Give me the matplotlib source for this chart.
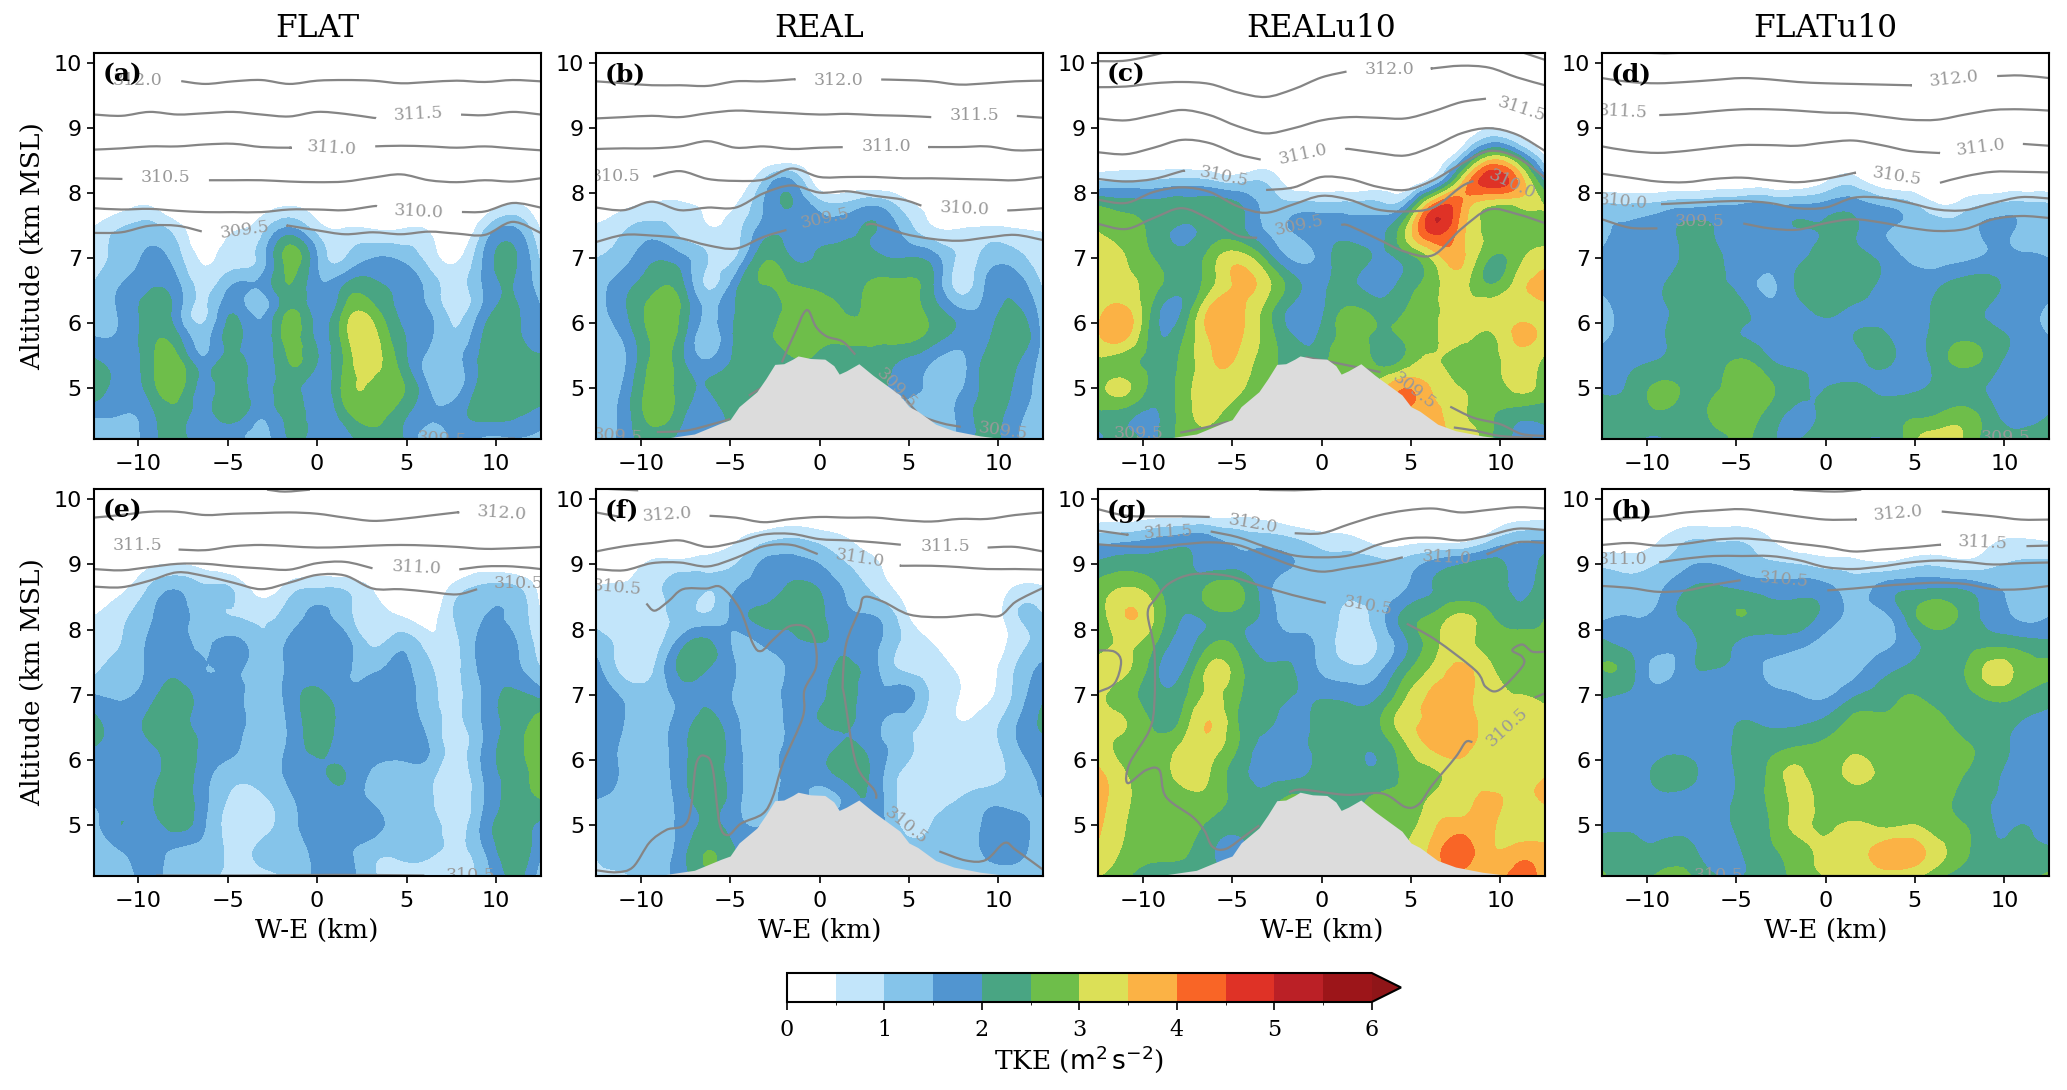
import numpy as np
import matplotlib
matplotlib.use("Agg")
import matplotlib.pyplot as plt
from matplotlib.colors import BoundaryNorm, ListedColormap
from matplotlib.cm import ScalarMappable
from matplotlib.patches import PathPatch
from matplotlib.path import Path
from matplotlib.tri import Triangulation, UniformTriRefiner

plt.rcParams['font.family'] = 'DejaVu Serif'

W, H = 2067, 1090

# TKE grid
X = np.array([-12.5, -10.94, -9.38, -7.81, -6.25, -4.69, -3.12, -1.56, 0,
              1.56, 3.12, 4.69, 6.25, 7.81, 9.38, 10.94, 12.5])
Z = np.array([4.2, 4.6, 5.0, 5.4, 5.8, 6.2, 6.6, 7.0, 7.4, 7.8, 8.2, 8.6, 9.0, 9.4, 9.8, 10.2])
LEVELS = [0, 0.5, 1, 1.5, 2, 2.5, 3, 3.5, 4, 4.5, 5, 5.5, 6]
COLORS = ['#ffffff', '#c2e5fa', '#85c4ea', '#5195d0', '#49a583', '#6ebe4a', '#dce057',
          '#fbb245', '#f96526', '#df3226', '#bb2026', '#9c1519']
OVER = '#8f1518'

O = [0] * 17
TKE_A = [
    [0.9, 1.2, 1.7, 2.2, 1.7, 1.7, 1.3, 2.0, 1.7, 1.8, 2.2, 2.1, 1.2, 1.6, 1.3, 1.4, 1.3],
    [1.6, 1.5, 1.8, 2.3, 1.8, 2.3, 1.6, 2.2, 1.7, 2.3, 2.7, 2.2, 1.6, 1.8, 2.2, 2.1, 1.8],
    [2.3, 1.8, 2.2, 2.7, 1.8, 2.4, 1.7, 2.3, 1.6, 2.7, 2.9, 2.6, 1.5, 1.3, 2.3, 2.3, 2.3],
    [2.1, 1.8, 2.3, 2.7, 1.7, 2.3, 1.7, 2.5, 2.0, 2.6, 3.2, 2.3, 1.3, 1.3, 2.2, 2.3, 2.2],
    [1.5, 1.6, 2.3, 2.1, 1.3, 2.2, 1.6, 2.7, 1.9, 2.8, 3.2, 2.1, 1.6, 1.1, 2.1, 2.2, 1.6],
    [1.1, 1.6, 2.2, 1.7, 0.9, 1.9, 1.3, 2.5, 1.7, 2.6, 2.7, 1.9, 1.5, 0.8, 1.7, 2.1, 1.5],
    [1.0, 1.5, 1.9, 1.6, 0.8, 1.5, 1.6, 2.5, 1.6, 2.0, 2.1, 1.9, 1.3, 0.8, 1.6, 2.0, 1.2],
    [0.8, 1.2, 1.6, 1.2, 0.4, 0.8, 1.2, 2.7, 1.5, 1.0, 1.5, 1.4, 0.8, 0.4, 1.6, 2.1, 0.9],
    [0.6, 1.1, 1.3, 0.8, 0.1, 0.5, 0.9, 1.8, 0.9, 0.6, 0.6, 0.6, 0.5, 0.0, 1.1, 1.7, 0.5],
    [0.0, 0.3, 0.5, 0.0, 0.0, 0.0, 0.2, 0.5, 0.2, 0.0, 0.0, 0.0, 0.0, 0.0, 0.2, 0.6, 0.0],
    O, O, O, O, O, O,
]
TKE_B = [
    [1.3, 1.7, 2.3, 1.8, 1.8, 2.0, 2.0, 2.0, 2.0, 2.0, 2.0, 1.5, 1.3, 1.6, 2.2, 1.6, 1.2],
    [1.4, 1.7, 2.7, 2.2, 1.7, 2.2, 2.2, 2.3, 2.3, 2.2, 2.0, 1.3, 1.2, 1.6, 2.2, 1.7, 1.3],
    [1.3, 1.6, 2.7, 2.3, 2.0, 2.2, 2.4, 2.4, 2.4, 2.4, 2.2, 1.7, 1.4, 1.4, 2.2, 1.9, 1.3],
    [1.2, 1.4, 2.6, 2.2, 1.6, 2.1, 2.3, 2.4, 2.4, 2.3, 2.3, 1.9, 1.5, 1.3, 2.2, 2.1, 1.3],
    [1.2, 1.6, 2.6, 2.3, 1.2, 2.1, 2.4, 2.8, 2.7, 2.6, 2.6, 2.7, 2.3, 1.8, 1.9, 2.4, 1.3],
    [1.3, 1.9, 2.7, 2.5, 1.4, 2.0, 2.3, 2.7, 2.9, 2.45, 2.7, 2.8, 2.3, 1.6, 1.7, 2.1, 1.2],
    [1.2, 1.8, 2.3, 2.2, 0.9, 1.8, 2.5, 2.5, 2.3, 2.2, 2.6, 2.6, 2.1, 0.8, 1.6, 1.8, 0.9],
    [1.0, 1.3, 1.9, 1.7, 1.0, 1.0, 2.4, 2.0, 2.1, 2.2, 2.1, 2.0, 1.8, 0.9, 1.2, 1.2, 0.6],
    [0.7, 1.0, 1.3, 0.9, 0.6, 0.8, 1.8, 1.9, 1.8, 1.9, 2.0, 1.4, 0.7, 0.6, 0.7, 0.6, 0.5],
    [0.1, 0.4, 0.6, 0.6, 0.4, 0.5, 1.5, 2.0, 1.3, 1.2, 1.5, 0.8, 0.3, 0.0, 0.0, 0.0, 0.0],
    [0.0, 0.0, 0.0, 0.0, 0.0, 0.0, 1.0, 1.5, 0.1, 0.0, 0.0, 0.0, 0.0, 0.0, 0.0, 0.0, 0.0],
    O, O, O, O, O,
]
TKE_C = [
    [1.8, 2.2, 1.9, 2.7, 2.8, 2.8, 2.6, 2.5, 2.5, 2.5, 3.0, 3.5, 3.6, 3.6, 2.6, 1.9, 1.8],
    [2.4, 2.2, 1.9, 2.7, 3.1, 2.8, 2.7, 2.5, 2.6, 2.6, 3.0, 3.8, 3.7, 3.1, 2.6, 2.2, 2.2],
    [2.7, 3.1, 2.3, 2.7, 3.3, 3.1, 2.7, 2.5, 2.6, 2.7, 3.2, 4.0, 3.4, 3.0, 2.7, 3.1, 2.7],
    [2.9, 2.7, 2.3, 2.6, 3.4, 3.4, 2.7, 2.3, 2.3, 3.0, 2.4, 2.7, 3.1, 2.6, 2.7, 3.2, 2.9],
    [3.4, 3.6, 2.2, 2.4, 3.55, 3.6, 2.8, 2.0, 2.1, 2.7, 2.4, 2.6, 2.9, 3.2, 2.9, 3.6, 3.2],
    [3.3, 3.6, 2.3, 2.0, 3.6, 3.7, 2.8, 1.8, 1.9, 2.6, 2.3, 2.5, 2.9, 3.2, 3.2, 3.3, 3.4],
    [3.1, 3.1, 2.7, 2.2, 2.8, 3.6, 3.2, 2.2, 1.9, 2.1, 1.8, 2.2, 2.8, 3.2, 2.5, 3.2, 3.6],
    [3.2, 3.0, 2.5, 2.2, 2.7, 3.3, 2.4, 1.4, 1.7, 2.2, 1.9, 2.2, 3.1, 3.6, 2.5, 2.8, 3.3],
    [3.0, 2.8, 2.3, 1.9, 2.2, 2.2, 1.5, 1.5, 1.8, 1.8, 1.8, 3.0, 4.6, 3.7, 2.9, 2.8, 2.8],
    [2.5, 2.3, 2.2, 2.2, 2.3, 2.1, 1.3, 1.2, 1.2, 1.2, 1.2, 1.6, 4.2, 4.0, 3.0, 3.0, 3.0],
    [0.9, 1.0, 1.0, 1.1, 1.0, 0.8, 0.9, 0.1, 0.0, 0.0, 0.1, 0.0, 0.8, 3.2, 4.8, 4.0, 1.8],
    [0.0, 0.0, 0.0, 0.0, 0.0, 0.0, 0.0, 0.0, 0.0, 0.0, 0.0, 0.0, 0.0, 0.9, 2.7, 2.0, 0.4],
    [0.0, 0.0, 0.0, 0.0, 0.0, 0.0, 0.0, 0.0, 0.0, 0.0, 0.0, 0.0, 0.0, 0.0, 0.5, 0.2, 0.0],
    O, O, O,
]
TKE_D = [
    [2.1, 2.1, 1.9, 2.2, 2.2, 2.6, 2.1, 2.0, 2.2, 2.2, 1.9, 2.7, 3.4, 2.9, 2.2, 2.2, 2.2],
    [2.3, 2.2, 2.4, 2.3, 2.6, 2.8, 2.3, 1.9, 2.1, 2.3, 2.3, 2.4, 2.5, 2.7, 2.1, 1.8, 2.0],
    [1.9, 2.1, 2.6, 2.4, 2.4, 2.8, 2.6, 2.1, 2.0, 2.1, 1.9, 1.9, 2.1, 2.2, 1.9, 1.7, 1.7],
    [1.7, 1.9, 2.05, 2.2, 2.2, 2.6, 2.1, 1.9, 1.8, 1.8, 2.1, 1.8, 2.2, 2.6, 2.2, 1.7, 1.7],
    [1.4, 1.7, 1.9, 2.2, 2.2, 2.0, 1.8, 1.7, 1.8, 2.0, 2.1, 1.8, 2.2, 2.4, 2.2, 1.8, 1.5],
    [1.3, 1.7, 1.9, 2.2, 2.4, 2.1, 1.7, 1.8, 2.1, 1.9, 1.8, 1.8, 2.1, 2.2, 1.9, 1.7, 1.4],
    [1.6, 1.7, 1.9, 2.2, 2.1, 1.8, 1.4, 2.1, 2.4, 2.4, 1.9, 1.8, 1.9, 2.2, 2.1, 1.8, 1.7],
    [1.6, 1.8, 1.7, 2.1, 2.1, 1.8, 1.7, 1.9, 2.2, 2.2, 1.9, 1.4, 1.3, 1.4, 1.6, 1.6, 1.5],
    [1.4, 1.6, 1.7, 2.1, 2.0, 1.8, 1.8, 1.95, 2.05, 2.05, 1.6, 1.3, 1.3, 1.3, 1.6, 1.4, 1.3],
    [1.1, 1.1, 1.2, 1.4, 1.5, 1.6, 1.6, 1.6, 1.7, 1.8, 1.5, 1.2, 0.6, 0.8, 1.1, 1.2, 1.1],
    [0.0, 0.0, 0.0, 0.0, 0.0, 0.0, 0.0, 0.0, 0.4, 0.7, 0.1, 0.0, 0.0, 0.0, 0.0, 0.0, 0.0],
    O, O, O, O, O,
]
TKE_E = [
    [1.1, 1.2, 1.7, 1.2, 1.1, 0.8, 0.8, 1.1, 1.6, 1.7, 1.1, 0.7, 0.8, 0.8, 1.2, 2.1, 1.2],
    [1.2, 1.5, 1.7, 1.4, 1.3, 0.9, 1.1, 1.3, 1.6, 1.6, 1.2, 1.1, 1.1, 0.9, 1.5, 2.3, 1.6],
    [1.2, 2.0, 1.8, 2.2, 1.5, 0.8, 0.8, 1.3, 1.7, 1.6, 1.7, 1.2, 1.2, 0.8, 1.7, 2.2, 1.9],
    [1.6, 1.7, 1.9, 2.3, 1.6, 0.9, 0.9, 1.4, 1.8, 1.8, 1.4, 1.2, 1.1, 0.7, 1.5, 2.2, 2.5],
    [1.7, 1.8, 1.8, 2.2, 1.7, 1.2, 1.2, 1.6, 1.9, 2.0, 1.4, 1.2, 1.2, 0.7, 1.6, 2.2, 2.8],
    [2.0, 1.8, 1.9, 2.2, 1.9, 1.6, 1.2, 1.6, 2.1, 1.8, 1.8, 1.8, 1.5, 0.8, 1.6, 2.3, 2.8],
    [2.1, 1.8, 2.1, 2.2, 1.8, 1.7, 1.2, 1.6, 2.2, 1.8, 1.7, 1.7, 1.3, 0.9, 1.6, 2.2, 2.7],
    [1.5, 1.4, 1.8, 2.2, 1.8, 1.7, 1.2, 1.7, 2.1, 1.7, 1.7, 1.7, 1.2, 0.9, 1.6, 2.1, 1.8],
    [0.9, 1.2, 1.6, 1.9, 1.5, 1.6, 1.2, 1.6, 1.8, 1.6, 1.4, 1.6, 1.1, 0.9, 1.7, 1.7, 1.0],
    [0.8, 1.0, 1.6, 1.8, 1.4, 1.7, 1.1, 1.6, 1.8, 1.7, 0.9, 1.3, 0.7, 0.9, 1.7, 1.6, 0.7],
    [0.5, 0.9, 1.4, 1.7, 1.2, 1.0, 0.9, 1.2, 1.6, 1.2, 0.7, 0.5, 0.3, 1.1, 1.5, 1.4, 0.5],
    [0.0, 0.4, 1.1, 1.5, 1.1, 1.0, 0.3, 0.8, 1.1, 1.0, 0.5, 0.0, 0.0, 0.8, 1.2, 1.2, 0.3],
    [0.0, 0.0, 0.4, 0.5, 0.3, 0.0, 0.0, 0.0, 0.1, 0.0, 0.0, 0.0, 0.0, 0.0, 0.2, 0.1, 0.0],
    O, O, O,
]
TKE_F = [
    [0.9, 0.9, 1.3, 1.7, 2.3, 2.0, 2.0, 2.0, 2.0, 2.0, 2.0, 1.0, 1.0, 1.2, 1.2, 1.2, 1.2],
    [1.0, 1.3, 1.3, 1.7, 2.5, 2.0, 1.8, 1.8, 1.8, 1.8, 1.8, 1.2, 1.1, 1.2, 1.6, 1.7, 1.1],
    [1.1, 1.2, 1.3, 1.6, 2.1, 1.7, 1.5, 1.8, 1.8, 1.8, 1.8, 0.9, 1.0, 1.2, 1.6, 1.7, 1.2],
    [1.5, 1.3, 1.1, 1.7, 2.2, 1.7, 1.2, 1.7, 1.3, 1.7, 1.8, 0.8, 0.8, 1.0, 1.3, 1.3, 1.5],
    [1.7, 1.4, 1.1, 1.8, 2.2, 1.7, 1.2, 1.7, 1.8, 2.2, 1.8, 0.9, 0.7, 0.7, 0.7, 1.2, 1.6],
    [1.8, 1.4, 1.2, 1.8, 2.2, 1.7, 1.1, 1.7, 1.8, 2.1, 1.7, 1.2, 0.7, 0.6, 0.7, 1.4, 1.8],
    [2.0, 1.5, 1.2, 1.7, 2.1, 1.6, 1.1, 1.7, 2.0, 2.1, 1.6, 1.3, 0.8, 0.5, 0.7, 1.4, 2.1],
    [1.8, 1.4, 1.2, 1.7, 1.9, 1.4, 1.1, 1.7, 1.9, 2.2, 1.6, 1.7, 0.9, 0.5, 0.4, 1.1, 1.9],
    [1.7, 0.8, 0.9, 2.1, 2.0, 1.5, 1.1, 1.6, 1.8, 2.1, 1.6, 0.9, 0.7, 0.4, 0.3, 1.0, 1.6],
    [1.2, 0.8, 0.7, 1.7, 2.1, 1.4, 1.6, 1.9, 2.0, 1.9, 1.6, 0.9, 0.5, 0.0, 0.1, 0.7, 1.2],
    [0.9, 0.7, 0.7, 1.1, 1.1, 1.7, 2.1, 2.1, 2.1, 1.6, 1.5, 0.7, 0.0, 0.0, 0.0, 0.9, 1.0],
    [0.6, 0.6, 0.7, 1.3, 1.0, 1.5, 1.8, 2.1, 2.0, 1.4, 0.9, 0.3, 0.0, 0.0, 0.0, 0.6, 0.6],
    [0.0, 0.2, 0.6, 0.7, 0.8, 1.0, 1.6, 1.7, 1.5, 1.0, 0.6, 0.0, 0.0, 0.0, 0.0, 0.0, 0.0],
    [0.0, 0.0, 0.0, 0.0, 0.0, 0.4, 0.8, 1.0, 0.8, 0.5, 0.1, 0.0, 0.0, 0.0, 0.0, 0.0, 0.0],
    O, O,
]
TKE_G = [
    [3.0, 2.6, 2.0, 2.2, 2.2, 2.1, 2.1, 2.2, 2.2, 2.2, 2.5, 3.0, 3.6, 3.7, 3.6, 4.2, 3.7],
    [3.4, 2.9, 2.7, 2.6, 2.1, 1.8, 2.3, 2.6, 2.5, 2.5, 2.6, 3.0, 3.7, 4.3, 3.6, 3.7, 3.7],
    [3.6, 3.0, 2.7, 2.7, 2.4, 2.2, 2.5, 2.6, 2.5, 2.5, 2.7, 2.8, 3.4, 3.7, 3.6, 3.2, 3.2],
    [3.7, 3.1, 2.7, 2.8, 2.8, 2.3, 2.2, 2.6, 2.3, 2.2, 2.6, 2.6, 3.1, 3.3, 3.6, 3.4, 3.6],
    [3.6, 3.0, 2.7, 3.2, 3.0, 2.2, 1.8, 1.8, 2.2, 2.2, 2.1, 2.6, 2.9, 3.3, 3.2, 3.2, 3.4],
    [3.2, 2.8, 2.6, 3.1, 3.3, 2.5, 1.8, 1.75, 2.2, 2.2, 2.1, 2.9, 3.6, 3.7, 3.2, 3.1, 3.1],
    [3.1, 3.0, 2.4, 2.6, 3.5, 2.5, 2.1, 1.8, 2.2, 2.2, 2.4, 3.3, 3.6, 3.8, 3.2, 3.1, 3.1],
    [3.1, 2.7, 2.2, 2.3, 3.1, 2.6, 2.2, 2.0, 1.9, 1.8, 1.9, 2.9, 3.6, 3.7, 3.2, 3.0, 2.9],
    [3.2, 3.1, 2.2, 1.9, 3.1, 2.7, 2.1, 2.0, 1.4, 1.1, 1.3, 2.3, 3.1, 3.6, 3.1, 2.8, 2.7],
    [2.7, 3.1, 2.6, 1.8, 2.4, 2.3, 1.7, 1.7, 1.3, 0.8, 1.0, 1.9, 2.8, 3.2, 2.8, 2.7, 2.6],
    [2.6, 3.5, 3.0, 2.0, 2.2, 2.3, 1.8, 1.2, 1.2, 0.9, 1.2, 2.2, 2.6, 3.1, 2.6, 2.2, 2.5],
    [2.7, 3.1, 2.7, 2.1, 2.7, 2.7, 1.7, 1.2, 1.2, 1.1, 1.2, 1.5, 2.0, 2.2, 2.2, 1.9, 2.3],
    [2.1, 2.3, 2.2, 2.1, 1.8, 1.8, 1.7, 1.5, 1.2, 1.2, 1.2, 1.2, 1.7, 2.0, 2.2, 1.8, 2.2],
    [1.2, 1.3, 1.5, 1.7, 1.6, 1.3, 1.2, 1.0, 0.7, 0.6, 0.2, 0.2, 0.2, 0.2, 0.8, 1.3, 1.4],
    [0.1, 0.1, 0.2, 0.2, 0.2, 0.3, 0.2, 0.0, 0.0, 0.0, 0.0, 0.0, 0.0, 0.0, 0.0, 0.1, 0.2],
    O,
]
TKE_H = [
    [2.6, 2.2, 2.6, 2.6, 2.1, 2.0, 2.2, 2.7, 3.0, 3.2, 3.2, 3.1, 2.6, 2.2, 2.2, 2.3, 2.6],
    [2.2, 2.2, 2.1, 2.2, 1.7, 2.0, 2.4, 2.8, 3.1, 3.3, 3.7, 3.8, 3.2, 2.6, 2.1, 2.1, 2.1],
    [1.9, 1.9, 1.9, 1.8, 1.8, 2.1, 2.5, 3.1, 2.9, 3.1, 2.9, 3.0, 2.7, 2.5, 2.0, 2.0, 1.7],
    [1.7, 1.8, 1.9, 1.8, 1.8, 2.1, 2.6, 3.1, 2.8, 2.7, 2.7, 2.7, 2.7, 2.3, 2.0, 1.8, 1.7],
    [1.8, 1.8, 2.1, 2.2, 1.8, 2.1, 2.6, 3.1, 2.7, 3.2, 2.8, 2.7, 2.9, 2.5, 2.1, 1.8, 1.8],
    [2.0, 1.8, 1.8, 1.8, 1.8, 2.1, 2.3, 2.5, 2.6, 2.8, 2.7, 2.8, 2.9, 2.6, 2.2, 1.9, 1.8],
    [1.7, 1.7, 1.7, 1.7, 1.8, 2.0, 1.9, 1.9, 2.1, 2.6, 2.6, 2.8, 2.7, 2.2, 2.2, 2.0, 1.9],
    [2.1, 1.9, 1.7, 1.9, 1.7, 1.8, 1.6, 1.5, 1.4, 1.9, 2.2, 2.5, 2.3, 2.3, 2.7, 2.5, 2.2],
    [2.5, 2.2, 1.3, 1.8, 2.0, 1.8, 1.4, 1.2, 1.1, 1.3, 1.8, 2.1, 2.3, 2.5, 3.2, 2.8, 2.6],
    [2.1, 1.8, 1.7, 1.8, 2.2, 1.9, 1.8, 1.7, 1.3, 1.2, 1.3, 1.8, 2.2, 2.3, 2.3, 2.2, 2.1],
    [1.4, 1.5, 1.6, 2.1, 2.2, 2.5, 2.2, 2.2, 1.8, 1.3, 1.3, 2.2, 2.8, 2.3, 1.8, 1.4, 1.5],
    [1.2, 1.2, 1.4, 2.0, 2.1, 2.0, 1.8, 1.8, 1.7, 1.3, 1.7, 2.0, 2.1, 2.0, 1.6, 1.4, 1.3],
    [0.9, 0.8, 1.0, 1.4, 1.5, 1.3, 1.1, 1.0, 0.8, 0.7, 0.6, 0.8, 0.9, 0.7, 0.9, 1.1, 1.1],
    [0.1, 0.1, 0.4, 0.9, 0.9, 0.9, 0.5, 0.0, 0.0, 0.0, 0.0, 0.0, 0.0, 0.1, 0.4, 0.5, 0.4],
    O, O,
]

# terrain of the REAL runs
TERRAIN_X = [-12.5, -9, -7, -5.5, -5, -4.5, -3.5, -3, -2.5, -2, -1.5, -1.2, -0.5, 0.3, 0.8, 1.1,
             1.5, 2.2, 3, 4, 4.5, 5, 5.5, 6.5, 7.5, 9, 10.5, 12.5]
TERRAIN_Z = [4.2, 4.22, 4.3, 4.47, 4.52, 4.72, 4.95, 5.15, 5.37, 5.38, 5.45, 5.5, 5.46, 5.45, 5.35, 5.22,
             5.27, 5.38, 5.2, 5.0, 4.9, 4.72, 4.65, 4.45, 4.35, 4.27, 4.22, 4.2]

# isentropes on the X columns: (heights, label gap in km)
THETA_A = [
    ([9.72, 9.72, 9.72, 9.73, 9.68, 9.72, 9.74, 9.68, 9.73, 9.74, 9.73, 9.69, 9.71, 9.73, 9.71, 9.74, 9.72], (-12.5, -7.6)),
    ([9.21, 9.19, 9.25, 9.21, 9.23, 9.25, 9.21, 9.18, 9.25, 9.22, 9.16, 9.2, 9.2, 9.21, 9.2, 9.25, 9.21], (3.25, 8.05)),
    ([8.67, 8.69, 8.72, 8.72, 8.75, 8.76, 8.71, 8.7, 8.72, 8.72, 8.72, 8.73, 8.72, 8.7, 8.72, 8.69, 8.66], (-1.55, 3.25)),
    ([8.23, 8.22, 8.21, 8.2, 8.2, 8.2, 8.2, 8.18, 8.17, 8.18, 8.24, 8.29, 8.2, 8.17, 8.2, 8.18, 8.23], (-10.95, -6.05)),
    ([7.77, 7.75, 7.76, 7.73, 7.71, 7.71, 7.71, 7.75, 7.75, 7.74, 7.8, 7.8, 7.8, 7.71, 7.72, 7.85, 7.78], (3.35, 8.1)),
    ([7.39, 7.4, 7.5, 7.5, 7.4, 7.4, 7.45, 7.5, 7.43, 7.37, 7.4, 7.37, 7.41, 7.38, 7.36, 7.56, 7.39], (-6.45, -1.65)),
]
THETA_B = [
    ([9.72, 9.69, 9.66, 9.66, 9.65, 9.72, 9.72, 9.75, 9.75, 9.75, 9.75, 9.74, 9.72, 9.67, 9.69, 9.72, 9.73], (-1.4, 3.45)),
    ([9.15, 9.17, 9.19, 9.17, 9.23, 9.27, 9.25, 9.23, 9.21, 9.22, 9.2, 9.19, 9.17, 9.17, 9.18, 9.19, 9.16], (6.25, 11.1)),
    ([8.68, 8.69, 8.69, 8.72, 8.8, 8.7, 8.72, 8.68, 8.7, 8.71, 8.71, 8.71, 8.71, 8.71, 8.72, 8.66, 8.67], (1.3, 6.15)),
    ([8.2, 8.2, 8.25, 8.34, 8.22, 8.19, 8.21, 8.38, 8.25, 8.25, 8.25, 8.23, 8.23, 8.22, 8.21, 8.2, 8.25], (-12.5, -9.3)),
    ([7.78, 7.74, 7.87, 7.74, 7.78, 7.78, 8.0, 8.12, 8.01, 8.03, 7.96, 7.9, 7.76, 7.74, 7.73, 7.74, 7.77], (5.7, 10.5)),
    ([7.25, 7.36, 7.35, 7.31, 7.2, 7.15, 7.33, 7.46, 7.5, 7.5, 7.52, 7.38, 7.3, 7.27, 7.32, 7.36, 7.28], (-1.85, 2.6)),
]
THETA_C = [
    ([9.63, 9.64, 9.69, 9.71, 9.68, 9.55, 9.48, 9.6, 9.78, 9.88, 9.9, 9.93, 9.92, 9.96, 9.93, 9.78, 9.66], (1.4, 6.2)),
    ([9.15, 9.12, 9.2, 9.28, 9.2, 9.03, 8.92, 9.0, 9.12, 9.17, 9.16, 9.15, 9.26, 9.4, 9.46, 9.4, 9.3], (9.2, 12.5)),
    ([8.63, 8.6, 8.7, 8.82, 8.77, 8.6, 8.5, 8.55, 8.6, 8.68, 8.62, 8.58, 8.72, 8.92, 9.0, 8.9, 8.65], (-3.4, 1.35)),
    ([8.22, 8.18, 8.22, 8.34, 8.3, 8.15, 8.05, 8.09, 8.25, 8.22, 8.1, 8.05, 8.2, 8.45, 8.65, 8.55, 8.24], (-7.7, -3.1)),
    ([7.9, 7.85, 8.02, 8.09, 8.02, 7.8, 7.7, 7.83, 7.96, 7.9, 7.75, 7.72, 7.78, 8.1, 8.3, 8.2, 8.1], (8.5, 12.5)),
    ([7.53, 7.45, 7.62, 7.77, 7.6, 7.35, 7.3, 7.4, 7.55, 7.5, 7.3, 7.1, 7.05, 7.45, 7.75, 7.68, 7.54], (-3.6, 1.1)),
]
THETA_D = [
    ([9.77, 9.71, 9.69, 9.71, 9.74, 9.77, 9.75, 9.71, 9.69, 9.68, 9.67, 9.66, 9.7, 9.73, 9.8, 9.81, 9.77], (4.75, 9.6)),
    ([9.2, 9.2, 9.2, 9.22, 9.26, 9.29, 9.29, 9.27, 9.24, 9.23, 9.18, 9.13, 9.13, 9.21, 9.28, 9.29, 9.27], (-12.5, -9.3)),
    ([8.72, 8.65, 8.62, 8.65, 8.7, 8.74, 8.74, 8.73, 8.78, 8.81, 8.74, 8.65, 8.62, 8.66, 8.74, 8.76, 8.73], (6.35, 11.1)),
    ([8.3, 8.24, 8.18, 8.17, 8.22, 8.24, 8.2, 8.17, 8.22, 8.31, 8.2, 8.15, 8.15, 8.26, 8.33, 8.33, 8.32], (1.6, 6.4)),
    ([7.85, 7.85, 7.83, 7.85, 7.87, 7.88, 7.85, 7.77, 7.78, 7.93, 7.93, 7.85, 7.75, 7.74, 7.85, 7.94, 7.92], (-12.5, -9.2)),
    ([7.6, 7.47, 7.46, 7.45, 7.45, 7.54, 7.46, 7.44, 7.54, 7.6, 7.55, 7.47, 7.42, 7.45, 7.6, 7.65, 7.62], (-9.4, -4.6)),
]
THETA_E = [
    ([9.72, 9.76, 9.81, 9.81, 9.76, 9.78, 9.79, 9.8, 9.78, 9.72, 9.67, 9.7, 9.75, 9.8, 9.8, 9.8, 9.8], (7.85, 12.5)),
    ([9.25, 9.25, 9.25, 9.23, 9.22, 9.28, 9.3, 9.28, 9.26, 9.27, 9.29, 9.3, 9.29, 9.27, 9.24, 9.25, 9.27], (-12.5, -7.75)),
    ([8.93, 8.91, 8.96, 9.01, 9.01, 8.97, 8.94, 8.92, 9.02, 9.04, 8.94, 8.94, 8.94, 8.92, 8.97, 8.97, 8.93], (3.1, 7.95)),
    ([8.66, 8.65, 8.75, 8.88, 8.82, 8.72, 8.62, 8.72, 8.84, 8.83, 8.63, 8.62, 8.58, 8.54, 8.65, 8.7, 8.7], (8.95, 12.5)),
]
THETA_F = [
    ([9.8, 9.72, 9.72, 9.75, 9.75, 9.72, 9.65, 9.7, 9.73, 9.72, 9.72, 9.68, 9.66, 9.7, 9.7, 9.76, 9.8], (-11.3, -6.15)),
    ([9.2, 9.28, 9.33, 9.37, 9.27, 9.34, 9.46, 9.47, 9.39, 9.37, 9.34, 9.3, 9.28, 9.26, 9.26, 9.27, 9.2], (4.55, 9.4)),
    ([8.93, 8.91, 9.02, 9.03, 8.97, 9.1, 9.28, 9.3, 9.15, 9.05, 9.0, 8.98, 8.98, 8.96, 8.93, 8.93, 8.92], (-0.1, 4.55)),
]
THETA_G = [
    ([9.85, 9.75, 9.74, 9.74, 9.73, 9.65, 9.55, 9.48, 9.48, 9.62, 9.75, 9.83, 9.86, 9.8, 9.84, 9.88, 9.86], (-6.25, -1.5)),
    ([9.52, 9.46, 9.46, 9.46, 9.51, 9.42, 9.27, 9.14, 9.11, 9.14, 9.3, 9.4, 9.41, 9.37, 9.45, 9.55, 9.53], (-10.9, -6.2)),
    ([9.31, 9.28, 9.27, 9.31, 9.34, 9.3, 9.14, 8.98, 8.89, 8.95, 9.02, 9.12, 9.15, 9.15, 9.17, 9.34, 9.33], (4.55, 9.35)),
]
THETA_H = [
    ([9.69, 9.71, 9.74, 9.8, 9.83, 9.85, 9.8, 9.74, 9.69, 9.69, 9.73, 9.8, 9.82, 9.78, 9.74, 9.69, 9.69], (1.65, 6.5)),
    ([9.3, 9.33, 9.29, 9.32, 9.38, 9.4, 9.37, 9.32, 9.27, 9.2, 9.23, 9.26, 9.3, 9.3, 9.28, 9.28, 9.29], (6.4, 11.3)),
    ([9.03, 9.03, 9.03, 9.09, 9.13, 9.13, 9.13, 9.07, 8.96, 8.93, 8.97, 9.03, 9.06, 9.04, 9.0, 9.02, 9.03], (-12.5, -9.3)),
    ([8.67, 8.64, 8.58, 8.6, 8.69, 8.76, 8.75, 8.65, 8.6, 8.63, 8.67, 8.7, 8.72, 8.7, 8.62, 8.62, 8.67], (-4.75, 0.1)),
]

# isentrope pieces that fold over or follow the ground
FREE_A = [([-12.5, -4], [4.22, 4.22]), ([4, 6], [4.22, 4.22]), ([9.5, 11], [4.22, 4.23])]
FREE_B = [([-9.1, -7.5, -6, -5], [4.33, 4.35, 4.45, 4.53]),
          ([-3.9, -3.3], [4.9, 5.0]),
          ([-2.1, -1.8, -1.3, -0.9, -0.6, -0.2, 0.4, 1.3, 2.0], [5.4, 5.6, 5.9, 6.15, 6.19, 5.95, 5.8, 5.72, 5.52]),
          ([4.65, 5.6, 6.8, 7.9], [4.9, 4.6, 4.47, 4.41])]
FREE_C = [([-12.5, -10.9, -9, -8.6], [10.03, 10.04, 10.15, 10.2]),
          ([-4.4, -3, -2.9], [10.17, 10.16, 10.18]),
          ([11.4, 12.5], [10.15, 10.05]),
          ([-7.9, -6.5, -5.2], [4.32, 4.4, 4.49]),
          ([-0.9, 0.3, 1.9, 3.3], [5.48, 5.42, 5.33, 5.25]),
          ([7.2, 8.5, 10, 11.2, 12.5], [4.72, 4.55, 4.45, 4.3, 4.27]),
          ([7.4, 8.6, 10, 11.8], [4.4, 4.35, 4.27, 4.24])]
FREE_D = [([-10.7, -9, -7.4], [10.17, 10.15, 10.17]), ([-12.5, 12.5], [4.22, 4.22])]
FREE_E = [([-2.8, -1.8, -0.4], [10.15, 10.12, 10.15]), ([-9, -4, 1, 6], [4.22, 4.22, 4.23, 4.22])]
FREE_F = [
    ([-9.68, -9.22, -8.47, -7.64, -6.33, -5.49, -4.47, -3.72, -3.26, -2.61, -1.68, -0.74, -0.28, -0.19, -0.84,
      -0.93, -2.05, -2.61, -3.17, -4.38, -5.12, -5.59, -5.96, -6.33, -6.89, -7.36, -8.57, -9.5, -10.43, -11.36, -12.48],
     [8.4, 8.29, 8.43, 8.62, 8.63, 8.65, 8.32, 7.78, 7.67, 7.84, 8.05, 8.04, 7.84, 7.43, 7.07,
      6.66, 5.94, 5.43, 5.17, 5.02, 4.84, 5.02, 5.84, 6.05, 5.94, 5.07, 4.92, 4.73, 4.35, 4.27, 4.3]),
    ([3.17, 3.07, 2.05, 1.4, 1.3, 1.49, 2.23, 2.51, 3.54, 5.03, 6.89, 8.75, 10.06, 10.99, 12.5],
     [5.4, 5.53, 5.94, 6.96, 7.17, 7.78, 8.3, 8.5, 8.43, 8.23, 8.19, 8.23, 8.21, 8.43, 8.64]),
    ([6.7, 8.19, 9.31, 10.34, 10.99, 12.5], [4.59, 4.45, 4.46, 4.72, 4.61, 4.31]),
    ([-12.5, -10.2], [10.17, 10.14]),
]
FREE_G = [
    ([0.24, -1.62, -3.48, -5.34, -7.2, -8.51, -9.26, -9.72, -9.35, -9.35, -9.63, -10.74, -10.84, -9.81, -9.07, -8.7,
      -7.2, -6.55, -6.09, -5.34, -4.23, -3.48],
     [8.41, 8.53, 8.68, 8.83, 8.85, 8.71, 8.48, 8.25, 7.68, 6.86, 6.45, 5.94, 5.64, 5.84, 5.84, 5.43,
      5.12, 4.91, 4.66, 4.63, 4.84, 4.99]),
    ([-1.81, -1.06, 1.36, 3.41, 4.71, 5.46, 6.2, 7.5, 8.06, 8.44],
     [5.5, 5.54, 5.46, 5.48, 5.27, 5.32, 5.61, 6.04, 6.27, 6.27]),
    ([4.77, 6.39, 8.62, 9.18, 9.93, 11.23, 11.23, 10.67, 11.23, 11.79, 12.5],
     [8.09, 7.84, 7.37, 7.12, 7.07, 7.43, 7.58, 7.68, 7.77, 7.66, 7.66]),
    ([-12.5, -11.58, -11.21, -11.58, -12.5], [7.68, 7.66, 7.5, 7.17, 7.04]),
    ([11.97, 12.5], [6.96, 7.02]),
    ([-3.5, -1.5, 0], [10.15, 10.14, 10.16]),
]
FREE_H = [([-1.8, 0.5, 2], [10.15, 10.12, 10.15]), ([-12.5, -8.4], [4.22, 4.22]), ([-3.5, 12.5], [4.22, 4.22])]

# contour labels: x, z, text, rotation
LABELS_A = [(-10.06, 9.73, '312.0', 0), (5.64, 9.22, '311.5', 3), (0.84, 8.69, '311.0', -4),
            (-8.46, 8.24, '310.5', 0), (5.68, 7.72, '310.0', -3), (-4.06, 7.43, '309.5', 8), (7, 4.22, '309.5', -4)]
LABELS_B = [(1.04, 9.74, '312.0', 0), (8.68, 9.2, '311.5', 0), (3.72, 8.72, '311.0', 0), (-11.4, 8.25, '310.5', 0),
            (8.14, 7.76, '310.0', -3), (0.32, 7.62, '309.5', 12), (4.3, 5.0, '309.5', -45), (10.24, 4.35, '309.5', -8),
            (-11.3, 4.27, '309.5', -4)]
LABELS_C = [(3.78, 9.9, '312.0', 0), (11.2, 9.29, '311.5', -18), (-1.06, 8.6, '311.0', 12), (-5.44, 8.25, '310.5', -12),
            (10.67, 8.13, '310.0', -25), (-1.28, 7.5, '309.5', 12), (5.18, 4.96, '309.5', -38), (-10.22, 4.3, '309.5', 0)]
LABELS_D = [(7.17, 9.75, '312.0', 6), (-11.36, 9.25, '311.5', -3), (8.7, 8.71, '311.0', 7), (3.97, 8.26, '310.5', -9),
            (-11.36, 7.87, '310.0', -5), (-7.04, 7.57, '309.5', 0), (10.05, 4.24, '309.5', 0)]
LABELS_E = [(10.34, 9.78, '312.0', -4), (-10.06, 9.29, '311.5', 0), (5.54, 8.95, '311.0', -3), (11.24, 8.7, '310.5', 0),
            (8.6, 4.22, '310.5', 0)]
LABELS_F = [(-8.53, 9.77, '312.0', 4), (7.02, 9.28, '311.5', 0), (2.23, 9.1, '311.0', -9), (-11.36, 8.65, '310.5', -5),
            (4.84, 4.99, '310.5', -38)]
LABELS_G = [(-3.85, 9.63, '312.0', -10), (-8.6, 9.49, '311.5', 3), (6.98, 9.11, '311.0', -3), (2.57, 8.37, '310.5', -10),
            (10.39, 6.5, '310.5', 42)]
LABELS_H = [(4.06, 9.78, '312.0', 5), (8.81, 9.33, '311.5', -3), (-11.36, 9.07, '311.0', 0), (-2.33, 8.76, '310.5', -5),
            (-5.96, 4.22, '310.5', 0)]

PANELS = [
    ('(a)', 'FLAT', TKE_A, THETA_A, FREE_A, LABELS_A, False),
    ('(b)', 'REAL', TKE_B, THETA_B, FREE_B, LABELS_B, True),
    ('(c)', 'REALu10', TKE_C, THETA_C, FREE_C, LABELS_C, True),
    ('(d)', 'FLATu10', TKE_D, THETA_D, FREE_D, LABELS_D, False),
    ('(e)', '', TKE_E, THETA_E, FREE_E, LABELS_E, False),
    ('(f)', '', TKE_F, THETA_F, FREE_F, LABELS_F, True),
    ('(g)', '', TKE_G, THETA_G, FREE_G, LABELS_G, True),
    ('(h)', '', TKE_H, THETA_H, FREE_H, LABELS_H, False),
]

LEFT = [93.6, 596, 1098, 1602]
TOP = [52.7, 489]
AW, AH = 447, 386.5
LINE = '#858585'
TEXT = '#999999'

cmap = ListedColormap(COLORS)
cmap.set_over(OVER)

xx, zz = np.meshgrid(X, Z)
refiner = UniformTriRefiner(Triangulation(xx.ravel(), zz.ravel()))


def draw_curve(ax, x, y):
    # round the polyline with bezier segments through the read points
    x = np.asarray(x, dtype=float)
    y = np.asarray(y, dtype=float)
    if len(x) < 3:
        ax.plot(x, y, color=LINE, lw=1.6, zorder=3)
        return
    px = np.concatenate([[x[0]], x, [x[-1]]])
    py = np.concatenate([[y[0]], y, [y[-1]]])
    verts = [(x[0], y[0])]
    codes = [Path.MOVETO]
    for k in range(1, len(px) - 2):
        verts.append((px[k] + (px[k + 1] - px[k - 1]) / 6, py[k] + (py[k + 1] - py[k - 1]) / 6))
        verts.append((px[k + 1] - (px[k + 2] - px[k]) / 6, py[k + 1] - (py[k + 2] - py[k]) / 6))
        verts.append((px[k + 1], py[k + 1]))
        codes += [Path.CURVE4, Path.CURVE4, Path.CURVE4]
    ax.add_patch(PathPatch(Path(verts, codes), fill=False, edgecolor=LINE, lw=1.6, zorder=3))


def draw_theta(ax, heights, gap):
    y = np.array(heights)
    left = X < gap[0]
    right = X > gap[1]
    if left.any():
        draw_curve(ax, np.append(X[left], gap[0]), np.append(y[left], np.interp(gap[0], X, y)))
    if right.any():
        draw_curve(ax, np.insert(X[right], 0, gap[1]), np.insert(y[right], 0, np.interp(gap[1], X, y)))


fig = plt.figure(figsize=(W / 100, H / 100), dpi=100)

for i, (tag, title, tke, theta, free, labels, hill) in enumerate(PANELS):
    row, col = i // 4, i % 4
    ax = fig.add_axes([LEFT[col] / W, 1 - (TOP[row] + AH) / H, AW / W, AH / H])
    tri, field = refiner.refine_field(np.array(tke, dtype=float).ravel(), subdiv=3)
    ax.tricontourf(tri, field, levels=LEVELS, colors=COLORS, extend='max')
    for heights, gap in theta:
        draw_theta(ax, heights, gap)
    for fx, fz in free:
        draw_curve(ax, fx, fz)
    if hill:
        ax.fill_between(TERRAIN_X, 4.0, TERRAIN_Z, color='#dcdcdc', lw=0, zorder=4)
    for lx, lz, txt, rot in labels:
        ax.text(lx, lz, txt, color=TEXT, fontsize=12.5, rotation=rot, ha='center', va='center', clip_on=True, zorder=5)
    ax.set_xlim(-12.5, 12.5)
    ax.set_ylim(4.22, 10.16)
    ax.set_xticks([-10, -5, 0, 5, 10])
    ax.set_yticks([5, 6, 7, 8, 9, 10])
    ax.tick_params(labelsize=16, length=5, width=1.2, labelfontfamily='DejaVu Sans')
    ax.tick_params(axis='x', pad=6)
    for s in ax.spines.values():
        s.set_linewidth(1.5)
        s.set_zorder(6)
    ax.text(0.02, 0.975, tag, transform=ax.transAxes, fontsize=18, fontweight='bold', va='top', zorder=7)
    if title:
        ax.set_title(title, fontsize=22.5, pad=11)
    if col == 0:
        ax.set_ylabel('Altitude (km MSL)', fontsize=19, labelpad=6)
    if row == 1:
        ax.set_xlabel('W-E (km)', fontsize=19, labelpad=5)

cax = fig.add_axes([787 / W, 1 - 1002 / H, 614 / W, 29 / H])
sm = ScalarMappable(norm=BoundaryNorm(LEVELS, cmap.N), cmap=cmap)
cb = fig.colorbar(sm, cax=cax, orientation='horizontal', extend='max', extendfrac=0.05, ticks=[0, 1, 2, 3, 4, 5, 6], drawedges=False)
cb.ax.tick_params(labelsize=16, length=6, width=1.2, pad=6)
cb.outline.set_linewidth(1.5)
cb.set_label(r'TKE ($\mathrm{m^2\,s^{-2}}$)', fontsize=19, labelpad=2)

fig.savefig('out.png', dpi=100)
